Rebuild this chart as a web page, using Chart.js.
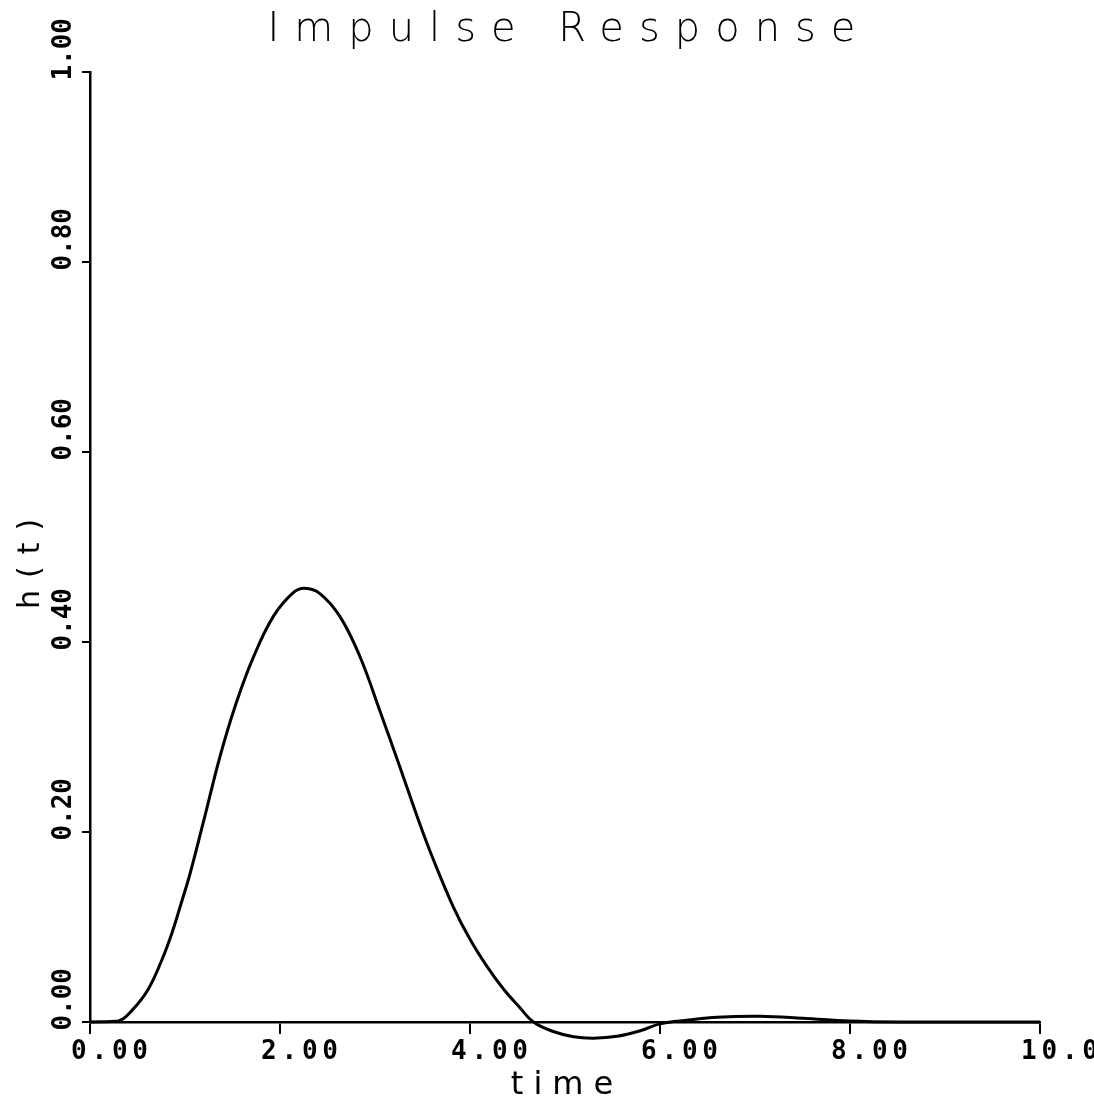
<!DOCTYPE html>
<html>
<head>
<meta charset="utf-8">
<script src="https://cdn.jsdelivr.net/npm/chart.js@4.4.1/dist/chart.umd.min.js"></script>
<style>
  html, body { margin: 0; padding: 0; background: #fff; overflow: hidden; }
  #wrap { width: 1140px; height: 1107px; }
</style>
</head>
<body>
<div id="wrap"><canvas id="c" width="1140" height="1107"></canvas></div>
<script>
// ---- data ----
const times = [0, 0.3, 0.44, 0.61, 0.755, 0.86, 0.96, 1.05, 1.19, 1.37, 1.54, 1.72, 1.93, 2.14, 2.26, 2.42, 2.63, 2.84, 3.05, 3.26, 3.47, 3.614, 3.825, 4.0, 4.175, 4.35, 4.526, 4.667, 4.877, 5.09, 5.3, 5.55, 5.8, 6.0, 6.3, 6.6, 7.05, 7.5, 8.0, 8.5, 10.0];
const values = [0, 0.001, 0.012, 0.034, 0.065, 0.093, 0.125, 0.155, 0.209, 0.280, 0.336, 0.384, 0.427, 0.452, 0.4565, 0.451, 0.427, 0.385, 0.328, 0.269, 0.209, 0.171, 0.121, 0.087, 0.059, 0.035, 0.015, 0.0, -0.010, -0.0155, -0.017, -0.015, -0.009, -0.002, 0.002, 0.005, 0.006, 0.004, 0.001, 0.0, 0.0];
const tickLabelsX = ['0.00', '2.00', '4.00', '6.00', '8.00', '10.0'];
const tickLabelsY = ['0.00', '0.20', '0.40', '0.60', '0.80', '1.00'];
const chartTitle = 'Impulse Response';
const xTitle = 'time';
const yTitle = 'h(t)';

const points = times.map((t, i) => ({ x: t, y: values[i] }));

// letter spacing / small offsets for plotter-like text
const textStylePlugin = {
  id: 'textStyle',
  beforeDraw(chart) {
    const wrap = (obj, method, spacing, dx, dy) => {
      if (!obj || obj['_w_' + method]) return;
      const orig = obj[method];
      obj[method] = function (...args) {
        const ctx = this.ctx;
        ctx.save();
        if ('letterSpacing' in ctx) ctx.letterSpacing = spacing;
        ctx.translate(dx, dy);
        const r = orig.apply(this, args);
        ctx.restore();
        return r;
      };
      obj['_w_' + method] = true;
    };
    wrap(chart.titleBlock, 'draw', '15px', 4, 0);
    wrap(chart.scales.x, 'drawLabels', '4.8px', 0, 0);
    wrap(chart.scales.x, 'drawTitle', '10px', 2, 0);
    wrap(chart.scales.y, 'drawTitle', '12px', 0, 11);
  }
};

new Chart(document.getElementById('c'), {
  type: 'scatter',
  data: {
    datasets: [{
      data: points,
      showLine: true,
      borderColor: '#000',
      backgroundColor: '#000',
      borderWidth: 3,
      pointRadius: 0,
      tension: 0.4,
      clip: false
    }]
  },
  options: {
    responsive: false,
    animation: false,
    devicePixelRatio: 1,
    layout: { padding: { left: 0, right: 100, top: 0, bottom: 0 } },
    plugins: {
      legend: { display: false },
      tooltip: { enabled: false },
      title: {
        display: true,
        text: chartTitle,
        fullSize: false,
        color: '#000',
        font: { family: "'DejaVu Sans', sans-serif", size: 40, weight: '200', lineHeight: 1.2 },
        padding: { top: 7, bottom: 17 }
      }
    },
    scales: {
      x: {
        type: 'linear',
        min: 0, max: 10,
        afterFit(scale) { scale.height = 85; },
        border: { display: true, color: '#000', width: 2.5 },
        grid: { display: true, drawOnChartArea: false, drawTicks: true, tickLength: 12, color: '#000', lineWidth: 2 },
        ticks: {
          stepSize: 2,
          autoSkip: false,
          maxRotation: 0, minRotation: 0,
          align: 'start',
          labelOffset: -19,
          padding: 3,
          color: '#000',
          font: { family: "'DejaVu Sans Mono', monospace", size: 26, weight: 'bold', lineHeight: 1.2 },
          callback: (v, i) => tickLabelsX[i]
        },
        title: {
          display: true,
          text: xTitle,
          color: '#000',
          font: { family: "'DejaVu Sans', sans-serif", size: 32, weight: 'normal', lineHeight: 1.2 },
          padding: { top: 0, bottom: 2 }
        }
      },
      y: {
        type: 'linear',
        min: 0, max: 1,
        afterFit(scale) { scale.width = 90; },
        border: { display: true, color: '#000', width: 2.5 },
        grid: { display: true, drawOnChartArea: false, drawTicks: true, tickLength: 8, color: '#000', lineWidth: 2 },
        ticks: {
          stepSize: 0.2,
          autoSkip: false,
          minRotation: 90, maxRotation: 90,
          labelOffset: -54,
          padding: 18,
          color: '#000',
          font: { family: "'DejaVu Sans Mono', monospace", size: 26, weight: 'bold', lineHeight: 1.2 },
          callback: (v, i) => tickLabelsY[i]
        },
        title: {
          display: true,
          text: yTitle,
          color: '#000',
          font: { family: "'DejaVu Sans', sans-serif", size: 30, weight: 'normal', lineHeight: 1.2 },
          padding: { top: 13, bottom: 0 }
        }
      }
    }
  },
  plugins: [textStylePlugin]
});
</script>
</body>
</html>
